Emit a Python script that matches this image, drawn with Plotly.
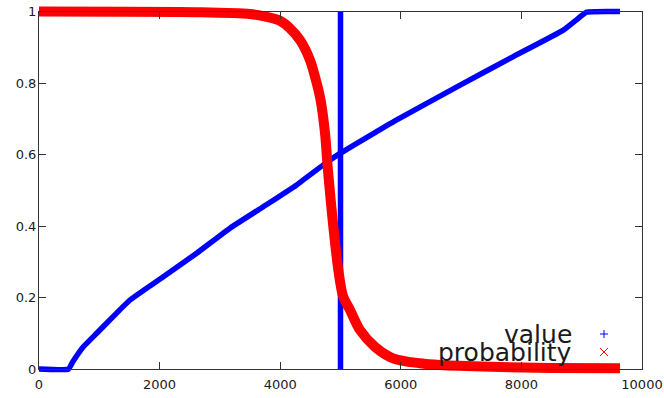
import plotly.graph_objects as go

# ---- data ----
value_x = [0, 490, 560, 735, 957, 1250, 1509, 2061, 2615, 3167, 3720, 4273,
           4715, 4992, 5932, 7037, 7866, 8695, 8900, 9082, 9635]
value_y = [0.0, 0.0, 0.02, 0.062, 0.10, 0.15, 0.193, 0.258, 0.324, 0.394, 0.454,
           0.515, 0.571, 0.603, 0.697, 0.799, 0.874, 0.948, 0.975, 0.998, 1.0]

prob_x = [0, 2670, 3499, 3776, 3997, 4162, 4328, 4494, 4605, 4670, 4743, 4787,
          4837, 4892, 4964, 5040, 5158, 5323, 5572, 5871, 6318, 6650, 7500,
          8500, 9635]
prob_y = [1.0, 0.998, 0.993, 0.985, 0.974, 0.953, 0.92, 0.864, 0.80, 0.752,
          0.66, 0.566, 0.473, 0.38, 0.277, 0.205, 0.165, 0.109, 0.062, 0.03,
          0.016, 0.011, 0.006, 0.003, 0.002]

threshold_x = [5000, 5000]
threshold_y = [0.0, 1.0]

x_ticks = [0, 2000, 4000, 6000, 8000, 10000]
x_tick_labels = ["0", "2000", "4000", "6000", "8000", "10000"]
y_ticks = [0, 0.2, 0.4, 0.6, 0.8, 1.0]
y_tick_labels = ["0", "0.2", "0.4", "0.6", "0.8", "1"]
legend_labels = ["value", "probability"]

# ---- geometry ----
W, H = 664, 398
ML, MR, MT, MB = 20, 10, 2, 20
PX0, PX1 = ML, W - MR          # plotting region (px)
PY0, PY1 = MT, H - MB
FX0, FX1 = 39, 642             # frame (px)
FY0, FY1 = 11.5, 369           # top, bottom of frame
XMIN, XMAX = 0, 10000
YMIN, YMAX = 0, 1

def px_to_x(px):
    return XMIN + (px - FX0) / (FX1 - FX0) * (XMAX - XMIN)

def py_to_y(py):
    return YMIN + (FY1 - py) / (FY1 - FY0) * (YMAX - YMIN)

def pfx(px):
    return (px - PX0) / (PX1 - PX0)

def pfy(py):
    return (PY1 - py) / (PY1 - PY0)

BLUE = "#0000ff"
RED = "#ff0000"
AX = "#333333"
TXT = "#1a1a1a"

fig = go.Figure()
fig.add_trace(go.Scatter(x=value_x, y=value_y, mode="lines",
                         line=dict(color=BLUE, width=5.5, shape="spline", smoothing=0.4),
                         showlegend=False, hoverinfo="skip"))
fig.add_trace(go.Scatter(x=threshold_x, y=threshold_y, mode="lines",
                         line=dict(color=BLUE, width=5.5),
                         showlegend=False, hoverinfo="skip"))
fig.add_trace(go.Scatter(x=prob_x, y=prob_y, mode="lines",
                         line=dict(color=RED, width=10, shape="spline", smoothing=0.8),
                         showlegend=False, hoverinfo="skip"))
# frame subplot
fig.add_trace(go.Scatter(x=[None], y=[None], xaxis="x2", yaxis="y2",
                         showlegend=False, hoverinfo="skip"))

fig.update_layout(
    width=W, height=H,
    margin=dict(l=ML, r=MR, t=MT, b=MB, autoexpand=False),
    paper_bgcolor="white", plot_bgcolor="rgba(0,0,0,0)",
    xaxis=dict(domain=[0, 1], range=[px_to_x(PX0), px_to_x(PX1)], visible=False,
               automargin=False),
    yaxis=dict(domain=[0, 1], range=[py_to_y(PY1), py_to_y(PY0)], visible=False,
               automargin=False),
    xaxis2=dict(domain=[pfx(FX0), pfx(FX1)], range=[XMIN, XMAX], anchor="y2",
                automargin=False, ticklabeloverflow="allow", ticklabelstandoff=3,
                showline=True, mirror="ticks", linecolor=AX, linewidth=1,
                ticks="inside", ticklen=7, tickwidth=1, tickcolor=AX,
                tickvals=x_ticks, ticktext=x_tick_labels,
                tickfont=dict(family="DejaVu Sans", size=13, color=TXT),
                showgrid=False, zeroline=False),
    yaxis2=dict(domain=[pfy(FY1), pfy(FY0)], range=[YMIN, YMAX], anchor="x2",
                automargin=False, ticklabeloverflow="allow", ticklabelstandoff=-1,
                showline=True, mirror="ticks", linecolor=AX, linewidth=1,
                ticks="inside", ticklen=7, tickwidth=1, tickcolor=AX,
                tickvals=y_ticks, ticktext=y_tick_labels,
                tickfont=dict(family="DejaVu Sans", size=13, color=TXT),
                showgrid=False, zeroline=False),
)

# legend (gnuplot style: text then symbol)
rows = [334, 352]
for lab, py in zip(legend_labels, rows):
    fig.add_annotation(x=pfx(574), y=pfy(py), xref="paper", yref="paper",
                       text=lab, showarrow=False, xanchor="right", yanchor="middle",
                       font=dict(family="DejaVu Sans", size=25, color=TXT))
cx, s = 604, 4
py = rows[0]
fig.add_shape(type="line", xref="paper", yref="paper",
              x0=pfx(cx - s), x1=pfx(cx + s), y0=pfy(py), y1=pfy(py),
              line=dict(color=BLUE, width=1))
fig.add_shape(type="line", xref="paper", yref="paper",
              x0=pfx(cx), x1=pfx(cx), y0=pfy(py - s), y1=pfy(py + s),
              line=dict(color=BLUE, width=1))
py = rows[1]
fig.add_shape(type="line", xref="paper", yref="paper",
              x0=pfx(cx - s), x1=pfx(cx + s), y0=pfy(py - s), y1=pfy(py + s),
              line=dict(color=RED, width=1))
fig.add_shape(type="line", xref="paper", yref="paper",
              x0=pfx(cx - s), x1=pfx(cx + s), y0=pfy(py + s), y1=pfy(py - s),
              line=dict(color=RED, width=1))

fig.write_html("out.html")
